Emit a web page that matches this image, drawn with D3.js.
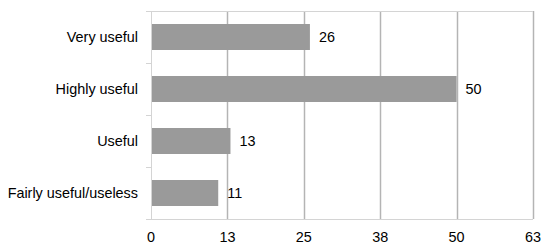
<!DOCTYPE html>
<html>
<head>
<meta charset="utf-8">
<script src="https://cdn.jsdelivr.net/npm/d3@7"></script>
<style>
  body { margin: 0; background: #fff; }
  svg text { font-family: "Liberation Sans", Arial, sans-serif; font-size: 14.4px; fill: #000; }
</style>
</head>
<body>
<svg id="chart" width="550" height="248"></svg>
<script>
// chart data
var categories = ["Very useful", "Highly useful", "Useful", "Fairly useful/useless"];
var values     = [26, 50, 13, 11];
var tickValues = [0, 12.5, 25, 37.5, 50, 62.5];
var tickLabels = ["0", "13", "25", "38", "50", "63"];

var margin = { top: 11, right: 17, bottom: 29, left: 151 };
var width  = 550 - margin.left - margin.right,
    height = 248 - margin.top - margin.bottom;

var svg = d3.select("#chart");
var g = svg.append("g").attr("transform", "translate(" + margin.left + "," + margin.top + ")");

var x = d3.scaleLinear().domain([0, 62.5]).range([0, width]);
var y = d3.scaleBand().domain(categories).range([0, height]).paddingInner(0.5).paddingOuter(0.25);

// vertical gridlines
g.selectAll(".grid").data(tickValues.slice(1))
  .enter().append("line")
    .attr("x1", function(d) { return Math.round(x(d)) + 0.5; })
    .attr("x2", function(d) { return Math.round(x(d)) + 0.5; })
    .attr("y1", 0).attr("y2", height)
    .attr("stroke", "#b4b4b4").attr("stroke-width", 1.5);

// top line
g.append("line")
  .attr("x1", -5).attr("x2", width).attr("y1", 0.5).attr("y2", 0.5)
  .attr("stroke", "#d4d4d4");

// bars
g.selectAll(".bar").data(values)
  .enter().append("rect")
    .attr("x", 0)
    .attr("y", function(d, i) { return y(categories[i]); })
    .attr("width", function(d) { return x(d); })
    .attr("height", y.bandwidth())
    .attr("fill", "#9a9a9a");

// value labels
g.selectAll(".val").data(values)
  .enter().append("text")
    .attr("x", function(d) { return x(d) + 9; })
    .attr("y", function(d, i) { return y(categories[i]) + y.bandwidth() / 2; })
    .attr("dy", "0.35em")
    .text(function(d) { return d; });

// y axis line + ticks between categories
g.append("line")
  .attr("x1", 0.5).attr("x2", 0.5).attr("y1", 0).attr("y2", height)
  .attr("stroke", "#d4d4d4");
var step = height / categories.length;
g.selectAll(".ytick").data(d3.range(categories.length + 1))
  .enter().append("line")
    .attr("x1", -5).attr("x2", 0)
    .attr("y1", function(i) { return Math.round(i * step) + 0.5; })
    .attr("y2", function(i) { return Math.round(i * step) + 0.5; })
    .attr("stroke", "#d4d4d4");

// category labels
g.selectAll(".cat").data(categories)
  .enter().append("text")
    .attr("x", -13)
    .attr("y", function(d) { return y(d) + y.bandwidth() / 2; })
    .attr("dy", "0.35em")
    .attr("text-anchor", "end")
    .text(function(d) { return d; });

// x axis
g.append("line")
  .attr("x1", 0).attr("x2", width).attr("y1", height + 0.5).attr("y2", height + 0.5)
  .attr("stroke", "#d4d4d4");
g.selectAll(".xlab").data(tickValues)
  .enter().append("text")
    .attr("x", function(d) { return x(d); })
    .attr("y", height + 18)
    .attr("dy", "0.35em")
    .attr("text-anchor", "middle")
    .text(function(d, i) { return tickLabels[i]; });
</script>
</body>
</html>
